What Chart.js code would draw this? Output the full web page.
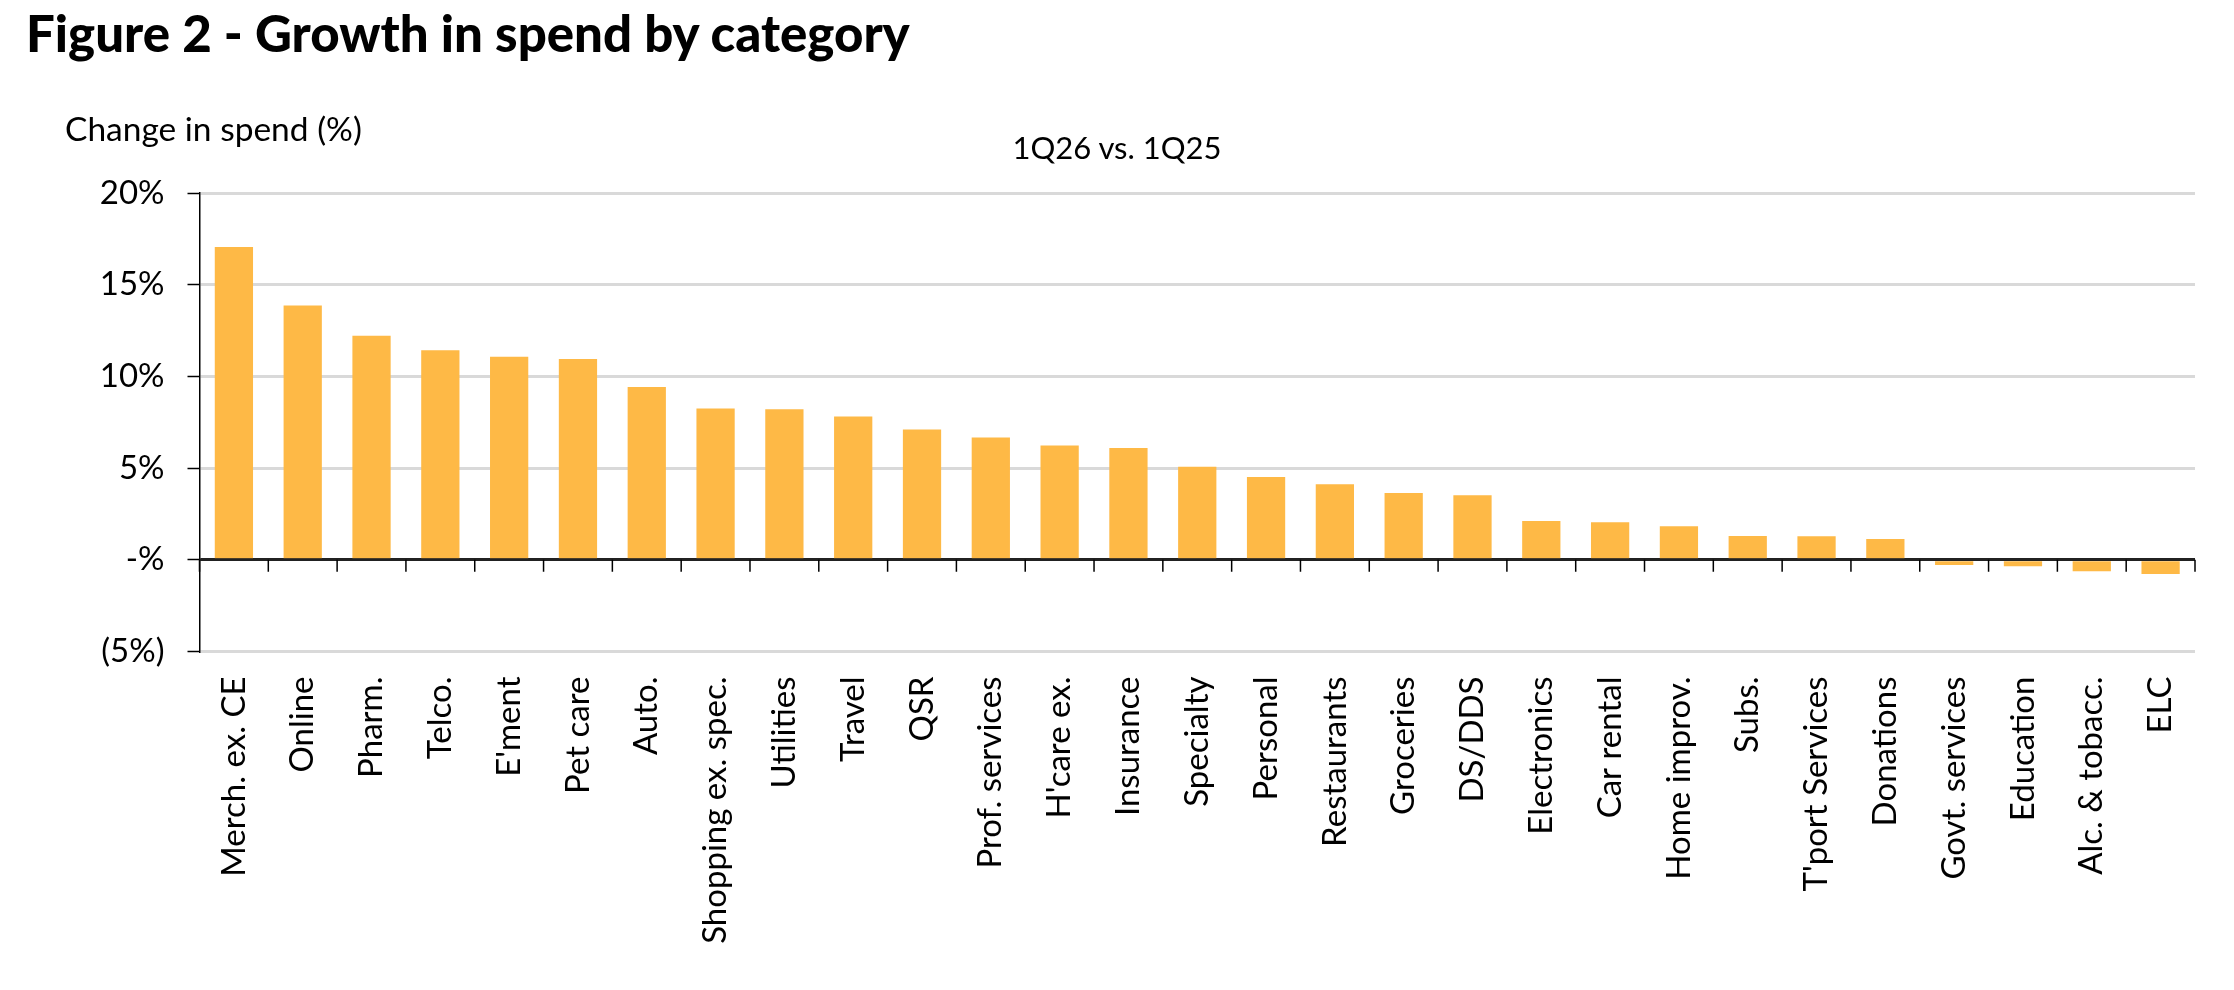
<!DOCTYPE html>
<html lang="en">
  <head>
    <meta charset="utf-8">
    <title>Figure 2 - Growth in spend by category</title>
    <script src="https://cdn.jsdelivr.net/npm/chart.js"></script>
    <style>
      html, body { margin: 0; padding: 0; background: #fff; }
      #wrap { position: relative; width: 2234px; height: 990px; font-family: 'Lato', sans-serif; color: #000; }
      #wrap canvas { position: absolute; left: 0; top: 0; }
      .txt { position: absolute; white-space: nowrap; line-height: 1; }
      #title { left: 26px; top: 7px; font-size: 51px; font-weight: 900; }
      #ylabel { left: 65px; top: 112px; font-size: 33.5px; }
      #subtitle { left: 0; width: 2234px; text-align: center; top: 132px; font-size: 31px; }
    </style>
  </head>
  <body>
    <div id="wrap">
      <canvas id="barChart" width="2234" height="990"></canvas>
      <div class="txt" id="title">Figure 2 - Growth in spend by category</div>
      <div class="txt" id="ylabel">Change in spend (%)</div>
      <div class="txt" id="subtitle">1Q26 vs. 1Q25</div>
    </div>

    <script>
      // categories and values (% change, 1Q26 vs. 1Q25)
      var categories = ["Merch. ex. CE", "Online", "Pharm.", "Telco.", "E'ment", "Pet care", "Auto.",
        "Shopping ex. spec.", "Utilities", "Travel", "QSR", "Prof. services", "H'care ex.", "Insurance",
        "Specialty", "Personal", "Restaurants", "Groceries", "DS/DDS", "Electronics", "Car rental",
        "Home improv.", "Subs.", "T'port Services", "Donations", "Govt. services", "Education",
        "Alc. & tobacc.", "ELC"];
      var spendChange = [17.05, 13.86, 12.22, 11.42, 11.07, 10.95, 9.42, 8.25, 8.21, 7.81, 7.11, 6.67,
        6.23, 6.10, 5.07, 4.52, 4.12, 3.64, 3.52, 2.12, 2.05, 1.83, 1.30, 1.28, 1.14, -0.29, -0.35,
        -0.63, -0.77];
      var yTicks = [-5, 0, 5, 10, 15, 20];

      function pctLabel(v) {
        if (v === 0) return '-%';
        if (v < 0) return '(' + (-v) + '%)';
        return v + '%';
      }

      // zero line + category tick marks drawn on top of the bars
      var zeroAxis = {
        id: 'zeroAxis',
        afterDatasetsDraw: function(chart) {
          var ctx = chart.ctx, x = chart.scales.x, y = chart.scales.y;
          var y0 = y.getPixelForValue(0);
          var half = (x.getPixelForValue(1) - x.getPixelForValue(0)) / 2;
          ctx.save();
          ctx.strokeStyle = '#222';
          ctx.lineWidth = 2;
          ctx.beginPath();
          ctx.moveTo(chart.chartArea.left, y0);
          ctx.lineTo(chart.chartArea.right, y0);
          ctx.stroke();
          ctx.lineWidth = 1.5;
          ctx.strokeStyle = '#000';
          ctx.beginPath();
          for (var i = 0; i <= categories.length; i++) {
            var px = x.getPixelForValue(i) - half;
            ctx.moveTo(px, y0);
            ctx.lineTo(px, y0 + 12);
          }
          ctx.stroke();
          ctx.restore();
        }
      };

      var chartdata = {
        labels: categories,
        datasets: [{
          label: '1Q26 vs. 1Q25',
          data: spendChange,
          backgroundColor: '#FEB946',
          borderWidth: 0,
          categoryPercentage: 1,
          barPercentage: 0.556
        }]
      };

      var config = {
        type: 'bar',
        data: chartdata,
        options: {
          animation: false,
          responsive: false,
          layout: { padding: { top: 193, right: 39, left: 0, bottom: 0 } },
          plugins: { legend: { display: false }, tooltip: { enabled: false } },
          scales: {
            x: {
              grid: { display: false, drawTicks: false },
              border: { display: false },
              ticks: {
                autoSkip: false,
                maxRotation: 90,
                minRotation: 90,
                padding: 25,
                color: '#000',
                font: { family: 'Lato', size: 33 }
              },
              afterFit: function(scale) { scale.height = 990 - 651.5; }
            },
            y: {
              min: -5,
              max: 20,
              afterBuildTicks: function(scale) {
                scale.ticks = yTicks.map(function(v) { return { value: v }; });
              },
              grid: {
                color: function(c) { return c.tick && c.tick.value === 0 ? '#222' : '#d9d9d9'; },
                lineWidth: 3,
                tickColor: '#000',
                tickWidth: 1.5,
                tickLength: 12
              },
              border: { color: '#000', width: 1.5 },
              ticks: {
                padding: 23,
                color: '#000',
                font: { family: 'Lato', size: 33 },
                callback: function(v) { return pctLabel(v); }
              },
              afterFit: function(scale) { scale.width = 199.5; }
            }
          }
        },
        plugins: [zeroAxis]
      };

      var barChart = new Chart(document.getElementById('barChart'), config);
    </script>
  </body>
</html>
